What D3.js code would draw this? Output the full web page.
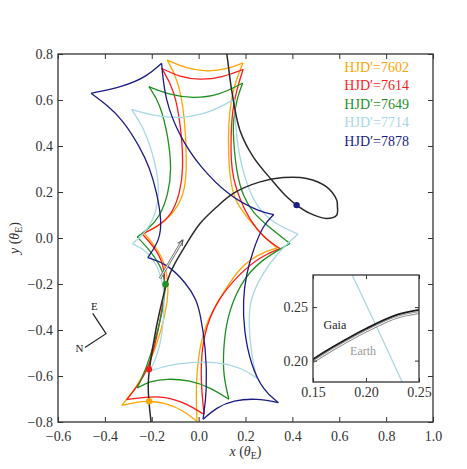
<!DOCTYPE html>
<html>
<head>
<meta charset="utf-8">
<script src="https://cdn.jsdelivr.net/npm/d3@7"></script>
<style>
  body { margin: 0; background: #fff; }
  text { font-family: "Liberation Serif", "DejaVu Serif", serif; }
</style>
</head>
<body>
<svg id="chart" width="467" height="469"></svg>
<script>
// Data: caustics, one list of arcs (cusp to cusp) per epoch, in units of theta_E
const epochs = ['7602', '7614', '7649', '7714', '7878']
const epochColors = ['#ffa500', '#ff1a1a', '#1f8f1f', '#a8d8e4', '#1c1c86']

const caustic7602 = [
  [[-0.134, 0.774], [-0.058, 0.739], [0.036, 0.722], [0.125, 0.735], [0.190, 0.762]],
  [[0.190, 0.762], [0.159, 0.687], [0.138, 0.600], [0.127, 0.491], [0.127, 0.382], [0.132, 0.273], [0.151, 0.165], [0.206, 0.091], [0.262, 0.021], [0.334, -0.044]],
  [[0.334, -0.044], [0.262, -0.066], [0.176, -0.127], [0.112, -0.227], [0.061, -0.314], [0.031, -0.379], [0.006, -0.466], [-0.007, -0.575], [-0.011, -0.684], [-0.007, -0.797]],
  [[-0.007, -0.797], [-0.067, -0.749], [-0.135, -0.719], [-0.208, -0.708], [-0.272, -0.714], [-0.328, -0.728]],
  [[-0.328, -0.728], [-0.264, -0.648], [-0.208, -0.546], [-0.158, -0.401], [-0.131, -0.271], [-0.129, -0.198], [-0.144, -0.111], [-0.172, -0.053], [-0.233, 0.023]],
  [[-0.233, 0.023], [-0.172, 0.048], [-0.094, 0.121], [-0.058, 0.208], [-0.050, 0.317], [-0.058, 0.526], [-0.087, 0.687], [-0.134, 0.774]]
]
const caustic7614 = [
  [[-0.158, 0.738], [-0.080, 0.700], [0.006, 0.687], [0.100, 0.698], [0.190, 0.733]],
  [[0.190, 0.733], [0.164, 0.652], [0.144, 0.556], [0.138, 0.447], [0.138, 0.339], [0.147, 0.260], [0.176, 0.165], [0.219, 0.078], [0.275, 0.004], [0.347, -0.046]],
  [[0.347, -0.046], [0.262, -0.082], [0.176, -0.154], [0.077, -0.271], [0.020, -0.416], [0.006, -0.590], [0.023, -0.767]],
  [[0.023, -0.767], [-0.051, -0.720], [-0.144, -0.688], [-0.229, -0.691], [-0.307, -0.703]],
  [[-0.307, -0.703], [-0.264, -0.648], [-0.208, -0.561], [-0.165, -0.372], [-0.144, -0.227], [-0.144, -0.140], [-0.172, -0.060], [-0.240, 0.017]],
  [[-0.240, 0.017], [-0.179, 0.048], [-0.115, 0.099], [-0.080, 0.194], [-0.065, 0.295], [-0.072, 0.456], [-0.101, 0.643], [-0.158, 0.738]]
]
const caustic7649 = [
  [[-0.212, 0.658], [-0.122, 0.622], [-0.023, 0.606], [0.091, 0.622], [0.188, 0.674]],
  [[0.188, 0.674], [0.164, 0.609], [0.147, 0.513], [0.148, 0.426], [0.162, 0.282], [0.190, 0.179], [0.233, 0.108], [0.290, 0.056], [0.390, -0.024]],
  [[0.390, -0.024], [0.262, -0.097], [0.176, -0.198], [0.120, -0.345], [0.105, -0.488], [0.105, -0.597], [0.129, -0.701]],
  [[0.129, -0.701], [0.048, -0.649], [-0.037, -0.619], [-0.135, -0.611], [-0.208, -0.623], [-0.262, -0.652]],
  [[-0.262, -0.652], [-0.220, -0.558], [-0.186, -0.445], [-0.152, -0.314], [-0.139, -0.201], [-0.158, -0.127], [-0.208, -0.053], [-0.262, 0.005]],
  [[-0.262, 0.005], [-0.220, 0.034], [-0.165, 0.091], [-0.129, 0.195], [-0.115, 0.295], [-0.129, 0.439], [-0.165, 0.587], [-0.212, 0.658]]
]
const caustic7714 = [
  [[-0.286, 0.559], [-0.186, 0.530], [-0.080, 0.519], [0.048, 0.543], [0.153, 0.604]],
  [[0.153, 0.604], [0.155, 0.556], [0.162, 0.426], [0.184, 0.308], [0.211, 0.221], [0.249, 0.134], [0.317, 0.065], [0.424, 0.017]],
  [[0.424, 0.017], [0.334, -0.066], [0.262, -0.171], [0.219, -0.271], [0.213, -0.371], [0.226, -0.519], [0.249, -0.610]],
  [[0.249, -0.610], [0.189, -0.567], [0.091, -0.539], [-0.037, -0.539], [-0.144, -0.556], [-0.210, -0.580]],
  [[-0.210, -0.580], [-0.178, -0.519], [-0.151, -0.401], [-0.144, -0.240], [-0.165, -0.140], [-0.220, -0.053], [-0.284, -0.025]],
  [[-0.284, -0.025], [-0.236, 0.012], [-0.186, 0.091], [-0.167, 0.195], [-0.179, 0.295], [-0.200, 0.382], [-0.236, 0.482], [-0.286, 0.559]]
]
const caustic7878 = [
  [[-0.459, 0.629], [-0.321, 0.658], [-0.222, 0.701], [-0.158, 0.760]],
  [[-0.158, 0.760], [-0.144, 0.600], [-0.080, 0.439], [0.006, 0.308], [0.134, 0.178], [0.262, 0.114], [0.321, 0.102]],
  [[0.321, 0.102], [0.275, 0.056], [0.232, -0.053], [0.202, -0.162], [0.189, -0.271], [0.193, -0.401], [0.223, -0.553], [0.275, -0.662], [0.340, -0.716]],
  [[0.340, -0.716], [0.249, -0.697], [0.147, -0.706], [0.078, -0.736], [0.019, -0.788]],
  [[0.019, -0.788], [0.036, -0.662], [0.031, -0.475], [0.006, -0.327], [-0.008, -0.271], [-0.051, -0.198], [-0.136, -0.111], [-0.217, -0.085]],
  [[-0.217, -0.085], [-0.165, -0.009], [-0.158, 0.078], [-0.178, 0.195], [-0.208, 0.304], [-0.250, 0.395], [-0.323, 0.513], [-0.391, 0.578], [-0.459, 0.629]]
]
const caustics = [caustic7602, caustic7614, caustic7649, caustic7714, caustic7878]

// source trajectory
const trajectory = [
  [0.108, 0.861], [0.120, 0.800], [0.141, 0.643], [0.176, 0.469], [0.233, 0.353], [0.312, 0.252],
  [0.376, 0.179], [0.418, 0.143], [0.475, 0.107], [0.546, 0.085], [0.589, 0.099], [0.592, 0.140],
  [0.589, 0.165], [0.546, 0.222], [0.461, 0.259], [0.361, 0.263], [0.262, 0.244], [0.148, 0.194],
  [0.077, 0.135], [0.006, 0.063], [-0.051, -0.024], [-0.122, -0.154], [-0.165, -0.314],
  [-0.193, -0.459], [-0.215, -0.633], [-0.200, -0.822]
]
// source position at each epoch (same order as epochs)
const sourceDots = [[-0.211, -0.710], [-0.212, -0.571], [-0.141, -0.201], null, [0.418, 0.143]]
const arrowLine = [[-0.165, -0.176], [-0.068, -0.009]]

// inset
const insetXTicks = [0.15, 0.20, 0.25]
const insetYTicks = [0.20, 0.25]
const gaiaTrack = [[0.150, 0.2013], [0.169, 0.2129], [0.2007, 0.2302], [0.2288, 0.2427], [0.250, 0.2474]]
const earthTrack = [[0.150, 0.1988], [0.169, 0.2105], [0.2007, 0.2278], [0.2288, 0.2403], [0.250, 0.2449]]
const insetCaustic = [[0.186, 0.282], [0.210, 0.2317], [0.235, 0.178]]

const xTicks = d3.range(-0.6, 1.01, 0.2)
const yTicks = d3.range(-0.8, 0.81, 0.2)

// Dimensions
const dims = { left: 58, right: 433, top: 54, bottom: 422 }
const svg = d3.select('#chart')

const xScale = d3.scaleLinear().domain([-0.6, 1.0]).range([dims.left, dims.right])
const yScale = d3.scaleLinear().domain([-0.8, 0.8]).range([dims.bottom, dims.top])

svg.append('clipPath').attr('id', 'clipMain')
  .append('rect')
  .attr('x', dims.left).attr('y', dims.top)
  .attr('width', dims.right - dims.left).attr('height', dims.bottom - dims.top)

const plot = svg.append('g').attr('clip-path', 'url(#clipMain)')

// caustic arcs: smoothed, passing through the cusps at both ends
const arcLine = d3.line()
  .x(d => xScale(d[0]))
  .y(d => yScale(d[1]))
  .curve(d3.curveBasis)
const line = d3.line()
  .x(d => xScale(d[0]))
  .y(d => yScale(d[1]))
  .curve(d3.curveCatmullRom.alpha(0.5))

// caustics
caustics.forEach((arcs, i) => {
  plot.append('g')
    .selectAll('path')
    .data(arcs)
    .join('path')
    .attr('d', arcLine)
    .attr('fill', 'none')
    .attr('stroke', epochColors[i])
    .attr('stroke-width', 1.3)
})

// trajectory
plot.append('path')
  .attr('d', line(trajectory))
  .attr('fill', 'none')
  .attr('stroke', '#2a2a2a')
  .attr('stroke-width', 1.5)

// arrow (double line look)
const arrowG = plot.append('g')
const straight = d3.line().x(d => xScale(d[0])).y(d => yScale(d[1]))
arrowG.append('path').attr('d', straight(arrowLine))
  .attr('stroke', '#777').attr('stroke-width', 2.6).attr('fill', 'none')
arrowG.append('path').attr('d', straight(arrowLine))
  .attr('stroke', '#fff').attr('stroke-width', 0.9).attr('fill', 'none')
{
  const x1 = xScale(arrowLine[1][0]), y1 = yScale(arrowLine[1][1])
  const x0 = xScale(arrowLine[0][0]), y0 = yScale(arrowLine[0][1])
  const ang = Math.atan2(y1 - y0, x1 - x0)
  const L = 6, w = 0.45
  const pts = [
    [x1 - L * Math.cos(ang - w), y1 - L * Math.sin(ang - w)],
    [x1, y1],
    [x1 - L * Math.cos(ang + w), y1 - L * Math.sin(ang + w)]
  ]
  arrowG.append('path').attr('d', d3.line()(pts))
    .attr('stroke', '#555').attr('stroke-width', 1.1).attr('fill', 'none')
}

// source dots
plot.append('g')
  .selectAll('circle')
  .data(sourceDots.map((d, i) => ({ d, c: epochColors[i] })).filter(o => o.d))
  .join('circle')
  .attr('cx', o => xScale(o.d[0]))
  .attr('cy', o => yScale(o.d[1]))
  .attr('r', 3.2)
  .attr('fill', o => o.c)

// Axes (ticks inward on all four sides)
const fmt = d3.format('.1f')
const tickLen = 5
const axisStyle = g => {
  g.select('.domain').remove()
  g.selectAll('.tick line').attr('stroke', '#333').attr('stroke-width', 1)
  g.selectAll('.tick text').attr('fill', '#333').style('font-size', '14px')
    .style('font-family', '"Liberation Serif", "DejaVu Serif", serif')
}
svg.append('g').attr('transform', `translate(0,${dims.bottom})`)
  .call(d3.axisBottom(xScale).tickValues(xTicks).tickFormat(fmt).tickSizeInner(-tickLen).tickSizeOuter(0).tickPadding(9))
  .call(axisStyle)
svg.append('g').attr('transform', `translate(0,${dims.top})`)
  .call(d3.axisTop(xScale).tickValues(xTicks).tickFormat('').tickSizeInner(-tickLen).tickSizeOuter(0))
  .call(axisStyle)
svg.append('g').attr('transform', `translate(${dims.left},0)`)
  .call(d3.axisLeft(yScale).tickValues(yTicks).tickFormat(fmt).tickSizeInner(-tickLen).tickSizeOuter(0).tickPadding(5))
  .call(axisStyle)
svg.append('g').attr('transform', `translate(${dims.right},0)`)
  .call(d3.axisRight(yScale).tickValues(yTicks).tickFormat('').tickSizeInner(-tickLen).tickSizeOuter(0))
  .call(axisStyle)

svg.append('rect')
  .attr('x', dims.left).attr('y', dims.top)
  .attr('width', dims.right - dims.left).attr('height', dims.bottom - dims.top)
  .attr('fill', 'none').attr('stroke', '#333').attr('stroke-width', 1.3)

// axis titles
const xTitle = svg.append('text')
  .attr('x', (dims.left + dims.right) / 2).attr('y', 456)
  .attr('text-anchor', 'middle').attr('fill', '#333').style('font-size', '14px')
xTitle.append('tspan').attr('font-style', 'italic').text('x')
xTitle.append('tspan').text(' (')
xTitle.append('tspan').attr('font-style', 'italic').text('θ')
xTitle.append('tspan').attr('dy', 3).style('font-size', '10px').text('E')
xTitle.append('tspan').attr('dy', -3).text(')')

const yTitle = svg.append('text')
  .attr('transform', `translate(19,${(dims.top + dims.bottom) / 2}) rotate(-90)`)
  .attr('text-anchor', 'middle').attr('fill', '#333').style('font-size', '14px')
yTitle.append('tspan').attr('font-style', 'italic').text('y')
yTitle.append('tspan').text(' (')
yTitle.append('tspan').attr('font-style', 'italic').text('θ')
yTitle.append('tspan').attr('dy', 3).style('font-size', '10px').text('E')
yTitle.append('tspan').attr('dy', -3).text(')')

// legend
svg.append('g')
  .selectAll('text')
  .data(epochs)
  .join('text')
  .attr('x', 409)
  .attr('y', (d, i) => dims.top + 18 + i * 18.4)
  .attr('text-anchor', 'end')
  .attr('fill', (d, i) => epochColors[i])
  .style('font-size', '14px')
  .text(d => `HJD′=${d}`)

// compass
const compassV = [-0.395, -0.416]
const compassE = [-0.452, -0.328]
const compassN = [-0.485, -0.476]
svg.append('path')
  .attr('d', d3.line().x(d => xScale(d[0])).y(d => yScale(d[1]))([compassE, compassV, compassN]))
  .attr('fill', 'none').attr('stroke', '#222').attr('stroke-width', 1.2)
svg.append('text').attr('x', xScale(-0.445)).attr('y', yScale(-0.297) + 4)
  .attr('text-anchor', 'middle').style('font-size', '11px').attr('fill', '#222').text('E')
svg.append('text').attr('x', xScale(-0.508)).attr('y', yScale(-0.479) + 4)
  .attr('text-anchor', 'middle').style('font-size', '11px').attr('fill', '#222').text('N')

// Inset
const ins = { left: 313, right: 419, top: 275, bottom: 382 }
const xi = d3.scaleLinear().domain([0.15, 0.25]).range([ins.left, ins.right])
const yi = d3.scaleLinear().domain([0.18, 0.28]).range([ins.bottom, ins.top])
svg.append('rect')
  .attr('x', ins.left).attr('y', ins.top)
  .attr('width', ins.right - ins.left).attr('height', ins.bottom - ins.top)
  .attr('fill', '#fff')
svg.append('clipPath').attr('id', 'clipInset')
  .append('rect')
  .attr('x', ins.left).attr('y', ins.top)
  .attr('width', ins.right - ins.left).attr('height', ins.bottom - ins.top)
const insetPlot = svg.append('g').attr('clip-path', 'url(#clipInset)')
const lineI = d3.line().x(d => xi(d[0])).y(d => yi(d[1])).curve(d3.curveCatmullRom.alpha(0.5))

insetPlot.append('path').attr('d', lineI(insetCaustic))
  .attr('fill', 'none').attr('stroke', epochColors[3]).attr('stroke-width', 1.3)
insetPlot.append('path').attr('d', lineI(earthTrack))
  .attr('fill', 'none').attr('stroke', '#888').attr('stroke-width', 2.8)
insetPlot.append('path').attr('d', lineI(earthTrack))
  .attr('fill', 'none').attr('stroke', '#fff').attr('stroke-width', 1)
insetPlot.append('path').attr('d', lineI(gaiaTrack))
  .attr('fill', 'none').attr('stroke', '#1a1a1a').attr('stroke-width', 1.8)

const fmt2 = d3.format('.2f')
const insTick = 4
svg.append('g').attr('transform', `translate(0,${ins.bottom})`)
  .call(d3.axisBottom(xi).tickValues(insetXTicks).tickFormat(fmt2).tickSizeInner(-insTick).tickSizeOuter(0).tickPadding(5))
  .call(axisStyle)
svg.append('g').attr('transform', `translate(0,${ins.top})`)
  .call(d3.axisTop(xi).tickValues(insetXTicks).tickFormat('').tickSizeInner(-insTick).tickSizeOuter(0))
  .call(axisStyle)
svg.append('g').attr('transform', `translate(${ins.left},0)`)
  .call(d3.axisLeft(yi).tickValues(insetYTicks).tickFormat(fmt2).tickSizeInner(-insTick).tickSizeOuter(0).tickPadding(5))
  .call(axisStyle)
svg.append('g').attr('transform', `translate(${ins.right},0)`)
  .call(d3.axisRight(yi).tickValues(insetYTicks).tickFormat('').tickSizeInner(-insTick).tickSizeOuter(0))
  .call(axisStyle)
svg.append('rect')
  .attr('x', ins.left).attr('y', ins.top)
  .attr('width', ins.right - ins.left).attr('height', ins.bottom - ins.top)
  .attr('fill', 'none').attr('stroke', '#333').attr('stroke-width', 1.3)

svg.append('text').attr('x', xi(0.160)).attr('y', yi(0.2295))
  .style('font-size', '12px').attr('fill', '#222').text('Gaia')
svg.append('text').attr('x', xi(0.185)).attr('y', yi(0.2051))
  .style('font-size', '12px').attr('fill', '#999').text('Earth')
</script>
</body>
</html>
